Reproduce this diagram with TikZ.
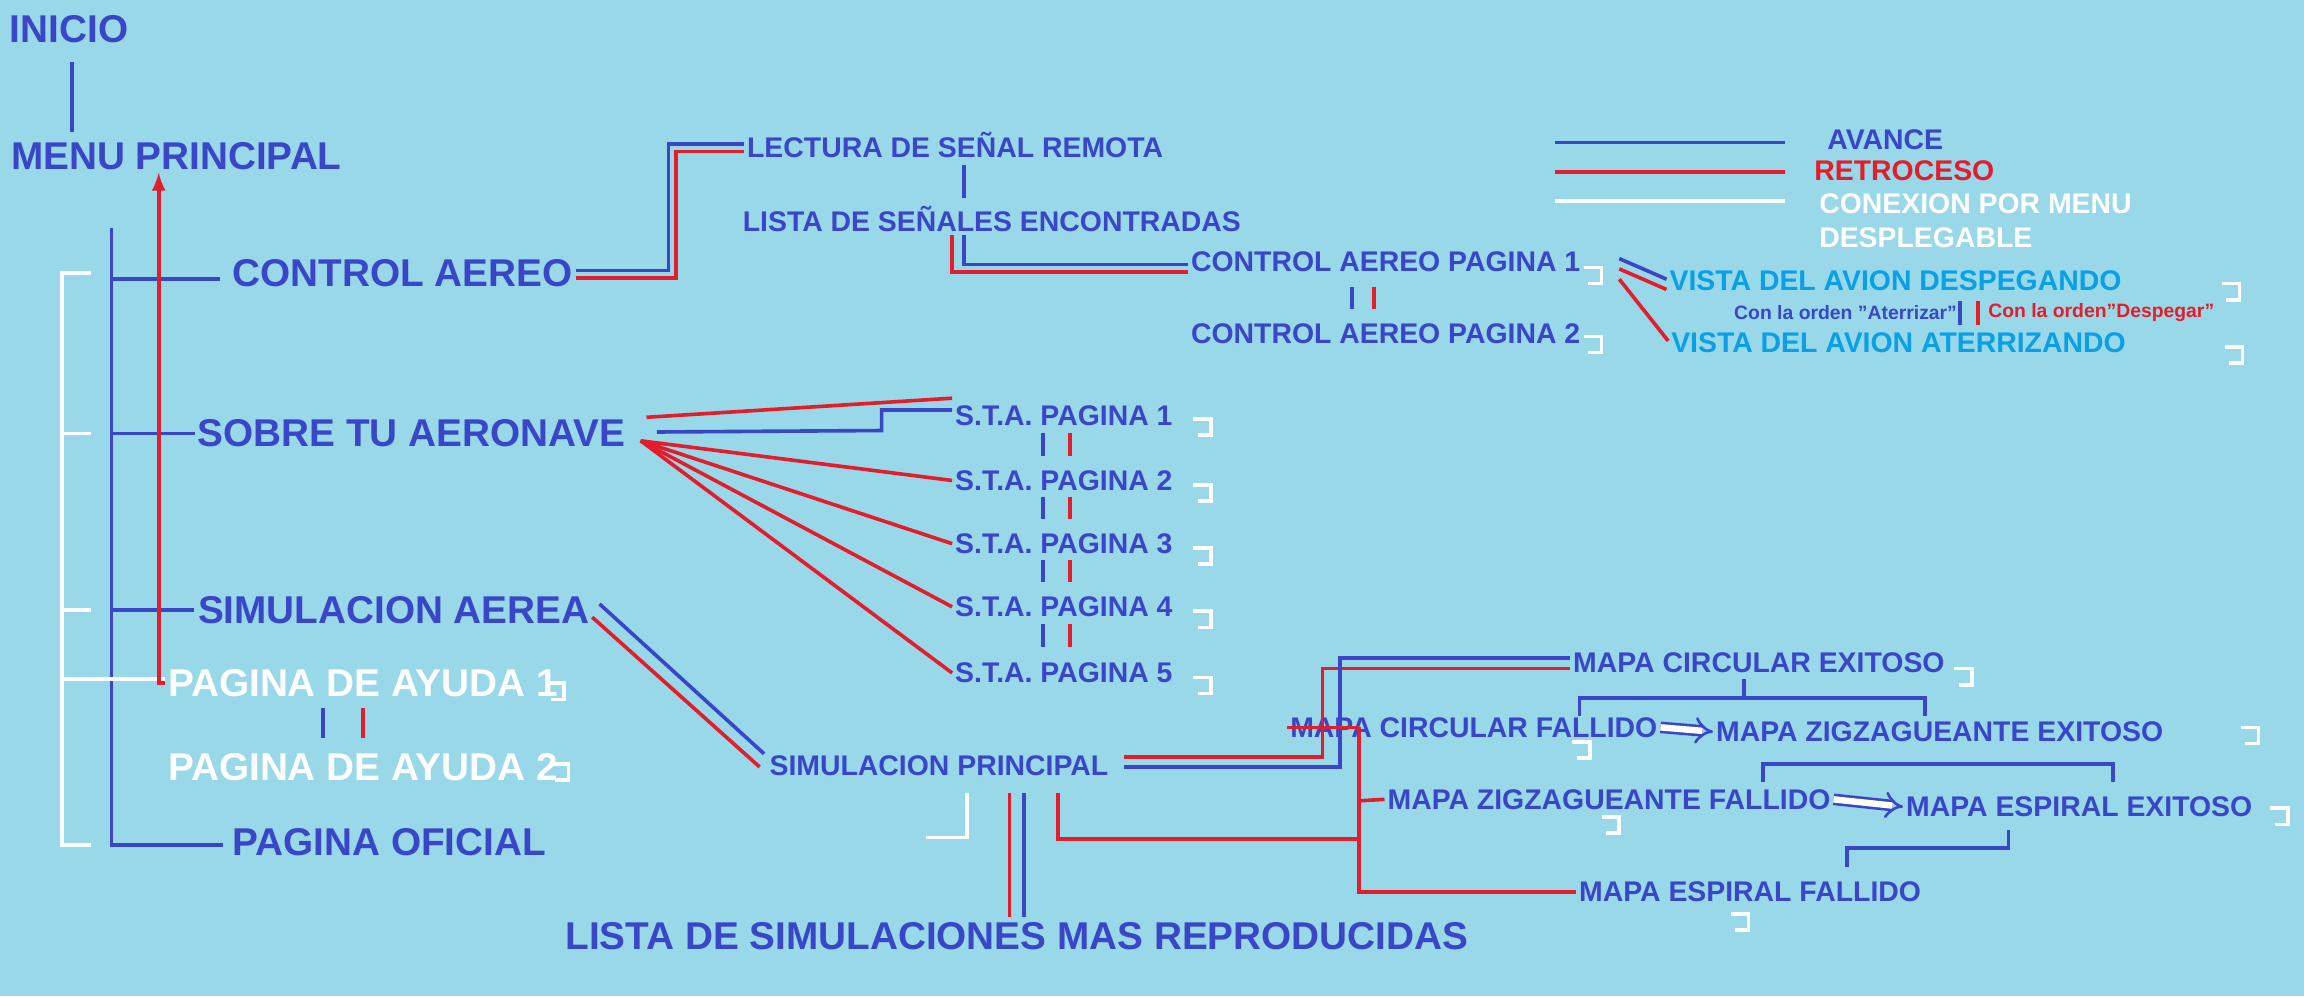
\documentclass[tikz,border=0pt]{standalone}
\usepackage{fontspec}
\setmainfont{Liberation Sans}
\usepackage{tikz}
\usetikzlibrary{arrows}

\definecolor{bg}{RGB}{152,216,232}
\definecolor{azul}{RGB}{58,70,200}
\definecolor{rojo}{RGB}{226,30,44}
\definecolor{celeste}{RGB}{10,160,230}

\tikzset{
  big/.style={font=\bfseries\fontsize{15}{17}\selectfont, text=azul, inner sep=1pt},
  med/.style={font=\bfseries\fontsize{11}{13}\selectfont, text=azul, inner sep=1pt},
  tiny/.style={font=\bfseries\fontsize{7.5}{9}\selectfont, inner sep=1pt},
  bl/.style={azul, line width=1.4pt},
  rd/.style={rojo, line width=1.4pt},
  wh/.style={white, line width=1.4pt}
}
% little white menu mark
\newcommand{\menumark}[2]{\draw[wh] (#1,#2) -- ++(12,0) -- ++(0,11) -- ++(-9,0);}

\begin{document}
\begin{tikzpicture}[x=0.02cm,y=-0.02cm]
  \fill[bg] (0,0) rectangle (1568,678);
  \useasboundingbox (0,0) rectangle (1568,678);

  % main menu
  \node[big] (inicio) at (47,20) {INICIO};
  \node[big] (menu) at (120,106) {MENU PRINCIPAL};
  \draw[bl] (49,42) -- (49,90);
  \node[big] (ctrl) at (274,186) {CONTROL AEREO};
  \node[big] (sobre) at (280,295) {SOBRE TU AERONAVE};
  \node[big] (simu) at (268,415) {SIMULACION AEREA};
  \node[big, text=white] (ayuda1) at (247,465) {PAGINA DE AYUDA 1};
  \node[big, text=white] (ayuda2) at (247,522) {PAGINA DE AYUDA 2};
  \node[big] (oficial) at (265,573) {PAGINA OFICIAL};

  \draw[bl] (76,155) -- (76,575) -- (152,575);
  \foreach \y/\e in {190/150, 295/133, 415/132}
    \draw[bl] (76,\y) -- (\e,\y);
  \draw[wh] (62,186) -- (42,186) -- (42,575) -- (62,575);
  \foreach \y in {295,415}
    \draw[wh] (42,\y) -- (62,\y);
  \draw[wh] (42,462) -- (ayuda1.west |- 0,462);
  \draw[rd, -latex] (ayuda1.west |- 0,465) -- (108,465) -- (menu.south -| 108,0);
  \draw[bl] (220,482) -- (220,502);
  \draw[rd] (247,482) -- (247,502);
  \menumark{372}{465}
  \menumark{375}{520}

  % control aereo
  \node[med] (lectura) at (650,99) {LECTURA DE SEÑAL REMOTA};
  \node[med] (lista) at (675,149) {LISTA DE SEÑALES ENCONTRADAS};
  \node[med] (cap1) at (943,178) {CONTROL AEREO PAGINA 1};
  \node[med] (cap2) at (943,227) {CONTROL AEREO PAGINA 2};
  \node[med, text=celeste] (desp) at (1290,191) {VISTA DEL AVION DESPEGANDO};
  \node[med, text=celeste] (ater) at (1292,233) {VISTA DEL AVION ATERRIZANDO};
  \node[tiny, text=azul] (oater) at (1256,213) {Con la orden "Aterrizar"};
  \node[tiny, text=rojo] (odesp) at (1430,213) {Con la orden"Despegar"};
  \draw[bl] (ctrl.east |- 0,184) -- (455,184) -- (455,98) -- (lectura.west |- 0,98);
  \draw[rd] (ctrl.east |- 0,189) -- (460,189) -- (460,103) -- (lectura.west |- 0,103);
  \draw[bl] (656,112) -- (656,135);
  \draw[bl] (656,160) -- (656,180) -- (cap1.west |- 0,180);
  \draw[rd] (648,160) -- (648,185) -- (cap1.west |- 0,185);
  \draw[bl] (920,195) -- (920,210);
  \draw[rd] (935,195) -- (935,210);
  \draw[bl] (1102,176) -- (desp.west |- 0,190);
  \draw[rd] (1102,183) -- (desp.west |- 0,197);
  \draw[rd] (1102,190) -- (ater.west |- 0,232);
  \draw[bl] (1334,205) -- (1334,221);
  \draw[rd] (1346,205) -- (1346,221);
  \menumark{1078}{182}
  \menumark{1078}{229}
  \menumark{1512}{193}
  \menumark{1514}{236}

  % legend
  \draw[bl] (1058,97) -- (1215,97);
  \draw[rd] (1058,117) -- (1215,117);
  \draw[wh] (1058,137) -- (1215,137);
  \node[med] (avance) at (1283,95) {AVANCE};
  \node[med, text=rojo] (retro) at (1296,116) {RETROCESO};
  \node[med, text=white, align=left, anchor=north west] (conex) at (1236,130) {CONEXION POR MENU\\DESPLEGABLE};

  % sobre tu aeronave
  \foreach \i/\y in {1/283, 2/327, 3/370, 4/413, 5/458}
    \node[med] (sta\i) at (724,\y) {S.T.A. PAGINA \i};
  \draw[rd] (440,284) -- (sta1.west |- 0,271);
  \draw[bl] (447,294) -- (600,293) -- (600,279) -- (sta1.west |- 0,279);
  \foreach \i in {2,...,5}
    \draw[rd] (436,300) -- (sta\i.west);
  \foreach \y in {295,338,381,425}
  {
    \draw[bl] (710,\y) -- (710,\y+15);
    \draw[rd] (728,\y) -- (728,\y+15);
  }
  \foreach \y in {285,330,373,416,461}
    {\menumark{812}{\y}}

  % simulacion
  \node[med] (sprin) at (639,521) {SIMULACION PRINCIPAL};
  \node[big] (mas) at (692,637) {LISTA DE SIMULACIONES MAS REPRODUCIDAS};
  \draw[bl] (408,411) -- (520,513);
  \draw[rd] (403,420) -- (517,522);
  \draw[wh] (658,540) -- (658,570) -- (630,570);
  \draw[rd] (687,540) -- (687,624);
  \draw[bl] (697,540) -- (697,624);

  \node[med] (cexi) at (1197,451) {MAPA CIRCULAR EXITOSO};
  \node[med] (cfal) at (1003,495) {MAPA CIRCULAR FALLIDO};
  \node[med] (zexi) at (1320,498) {MAPA ZIGZAGUEANTE EXITOSO};
  \node[med] (zfal) at (1095,544) {MAPA ZIGZAGUEANTE FALLIDO};
  \node[med] (eexi) at (1415,549) {MAPA ESPIRAL EXITOSO};
  \node[med] (efal) at (1191,607) {MAPA ESPIRAL FALLIDO};

  \draw[rd] (765,515) -- (900,515) -- (900,455) -- (cexi.west |- 0,455);
  \draw[bl] (765,522) -- (912,522) -- (912,448) -- (cexi.west |- 0,448);
  \draw[rd] (720,540) -- (720,571) -- (925,571);
  \draw[rd] (925,495) -- (925,607) -- (efal.west);
  \draw[rd] (925,495) -- (cfal.west);
  \draw[rd] (925,545) -- (zfal.west);
  \draw[bl] (1187,462) -- (1187,475);
  \draw[bl] (1075,487) -- (1075,475) -- (1310,475) -- (1310,487);
  \draw[bl] (1200,532) -- (1200,520) -- (1438,520) -- (1438,532);
  \draw[bl] (1367,565) -- (1367,577) -- (1257,577) -- (1257,590);
  \draw[azul, line width=1pt, double, double distance=2.5pt, -implies] (cfal.east) -- (zexi.west);
  \draw[azul, line width=1pt, double, double distance=2.5pt, -implies] (zfal.east) -- (eexi.west);
  \menumark{1330}{455}
  \menumark{1070}{505}
  \menumark{1525}{495}
  \menumark{1090}{556}
  \menumark{1545}{550}
  \menumark{1178}{622}
\end{tikzpicture}
\end{document}
